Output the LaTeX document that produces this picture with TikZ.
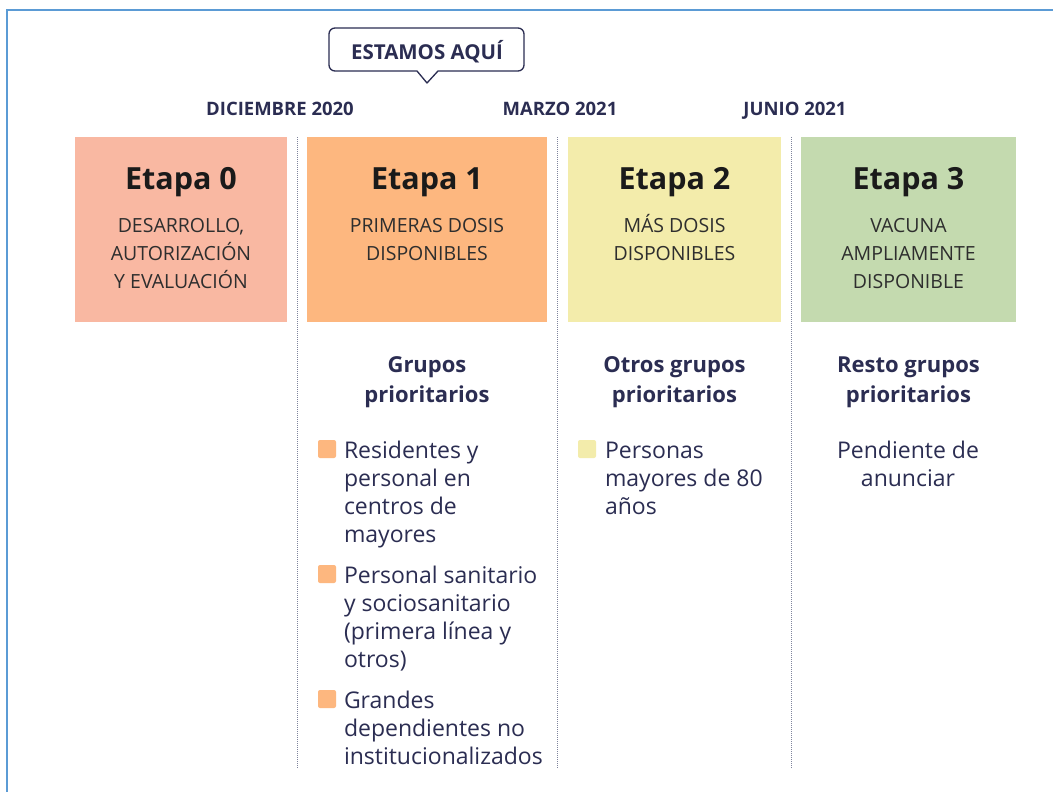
\documentclass[tikz,border=0pt]{standalone}
\usepackage{fontspec}
\setmainfont{Open Sans}
\definecolor{navy}{HTML}{2B2D52}
\definecolor{dark}{HTML}{1A1A1A}
\definecolor{subtxt}{HTML}{2E2E2E}
\definecolor{c0}{HTML}{F9B8A2}
\definecolor{c1}{HTML}{FDB77F}
\definecolor{c2}{HTML}{F3ECAB}
\definecolor{c3}{HTML}{C4DAAF}
\definecolor{framec}{HTML}{5B9BD5}
\definecolor{dotc}{HTML}{7F849C}
\begin{document}
\begin{tikzpicture}[x=1pt,y=-1pt,
  every node/.style={inner sep=0pt, outer sep=0pt},
  datestyle/.style={anchor=base, text=navy, font=\bfseries\fontsize{18.5}{22}\selectfont},
  stagebox/.style={anchor=north west, minimum height=185pt},
  headtxt/.style={anchor=base, text=dark, font=\bfseries\fontsize{30.5}{36}\selectfont},
  subtxtst/.style={anchor=base, align=center, text=subtxt, font=\fontsize{19.5}{28}\selectfont},
  grptxt/.style={anchor=base, align=center, text=navy, font=\bfseries\fontsize{22}{30}\selectfont},
  itemtxt/.style={anchor=base west, align=left, text=navy, font=\fontsize{23}{28}\selectfont},
  ctrtxt/.style={anchor=base, align=center, text=navy, font=\fontsize{23}{28}\selectfont},
  bul/.style={minimum size=18pt, rounded corners=2pt},
  sepline/.style={dotc, line width=1pt, dash pattern=on 1pt off 1pt},
  framel/.style={framec, line width=2pt}
]
\useasboundingbox (0,0) rectangle (1053,792);
\fill[white] (0,0) rectangle (1053,792);
% frame
\draw[framel] (7,792) -- (7,10) -- (1053,10);

% callout
\draw[navy, line width=1.3pt, fill=white, line join=round]
  (427,83) -- (438,71) [rounded corners=6pt] -- (524,71) -- (524,28) -- (329,28) -- (329,71) [sharp corners] -- (417,71) -- cycle;
\node[anchor=base, text=navy, font=\bfseries\fontsize{20.5}{24}\selectfont] (here) at (427,60) {ESTAMOS AQUÍ};

% dates
\node[datestyle] (d0) at (280,115) {DICIEMBRE 2020};
\node[datestyle] (d1) at (560,115) {MARZO 2021};
\node[datestyle] (d2) at (795,115) {JUNIO 2021};

% separators
\draw[sepline] (297,137) -- (297,768);
\draw[sepline] (557,137) -- (557,768);
\draw[sepline] (791,137) -- (791,768);

% stage boxes
\node[stagebox, fill=c0, minimum width=212pt] (s0) at (75,137) {};
\node[stagebox, fill=c1, minimum width=240pt] (s1) at (307,137) {};
\node[stagebox, fill=c2, minimum width=213pt] (s2) at (568,137) {};
\node[stagebox, fill=c3, minimum width=215pt] (s3) at (801,137) {};

\node[headtxt] (h0) at (181,189) {Etapa 0};
\node[headtxt] (h1) at (427,189) {Etapa 1};
\node[headtxt] (h2) at (674.5,189) {Etapa 2};
\node[headtxt] (h3) at (908.5,189) {Etapa 3};

% (multi-line nodes: base = baseline of last line)
\node[subtxtst] (t0) at (181,288) {DESARROLLO,\\AUTORIZACIÓN\\Y EVALUACIÓN};
\node[subtxtst] (t1) at (427,260) {PRIMERAS DOSIS\\DISPONIBLES};
\node[subtxtst] (t2) at (674.5,260) {MÁS DOSIS\\DISPONIBLES};
\node[subtxtst] (t3) at (908.5,288) {VACUNA\\AMPLIAMENTE\\DISPONIBLE};

% group headings
\node[grptxt] (g1) at (427,402) {Grupos\\prioritarios};
\node[grptxt] (g2) at (674.5,402) {Otros grupos\\prioritarios};
\node[grptxt] (g3) at (908.5,402) {Resto grupos\\prioritarios};

% items etapa 1
\node[bul, fill=c1] (b1a) at (327,449) {};
\node[itemtxt] (i1a) at (344,542) {Residentes y\\personal en\\centros de\\mayores};
\node[bul, fill=c1] (b1b) at (327,574) {};
\node[itemtxt] (i1b) at (344,667) {Personal sanitario\\y sociosanitario\\(primera línea y\\otros)};
\node[bul, fill=c1] (b1c) at (327,699) {};
\node[itemtxt] (i1c) at (344,764) {Grandes\\dependientes no\\institucionalizados};

% items etapa 2
\node[bul, fill=c2] (b2a) at (587,449) {};
\node[itemtxt] (i2a) at (605,514) {Personas\\mayores de 80\\años};

% etapa 3
\node[ctrtxt] (i3a) at (908,486) {Pendiente de\\anunciar};
\end{tikzpicture}
\end{document}
